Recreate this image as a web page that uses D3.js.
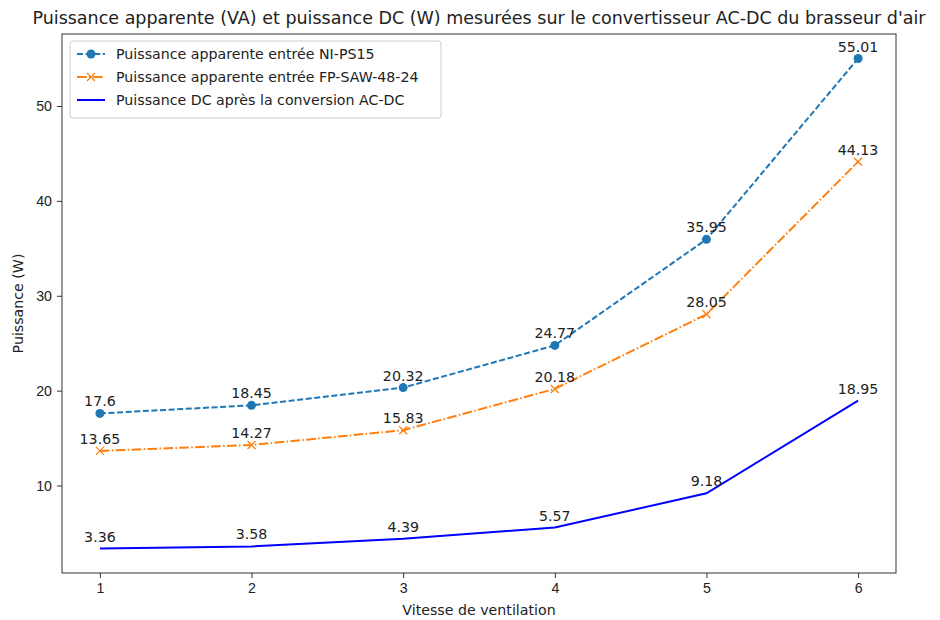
<!DOCTYPE html>
<html>
<head>
<meta charset="utf-8">
<script src="https://cdn.jsdelivr.net/npm/d3@7"></script>
<style>
  body { margin: 0; background: #fff; }
  svg { font-family: "DejaVu Sans", sans-serif; }
</style>
</head>
<body>
<div id="chart"></div>
<script>
// data
var vitesses = [1, 2, 3, 4, 5, 6];
var ps15 = [17.6, 18.45, 20.32, 24.77, 35.95, 55.01];
var saw = [13.65, 14.27, 15.83, 20.18, 28.05, 44.13];
var dc = [3.36, 3.58, 4.39, 5.57, 9.18, 18.95];
var yTicks = [10, 20, 30, 40, 50];
var titre = "Puissance apparente (VA) et puissance DC (W) mesurées sur le convertisseur AC-DC du brasseur d'air";

var series = [
  {name: "Puissance apparente entrée NI-PS15", values: ps15, color: "#1f77b4", dash: "6,2.6", marker: "circle"},
  {name: "Puissance apparente entrée FP-SAW-48-24", values: saw, color: "#ff7f0e", dash: "9.6,2.4,1.5,2.4", marker: "x"},
  {name: "Puissance DC après la conversion AC-DC", values: dc, color: "#0000ff", dash: null, marker: null}
];

var width = 940, height = 620;
var margin = {left: 62, right: 44, top: 34, bottom: 47};
var fs = "14.2px";

var svg = d3.select("#chart").append("svg")
    .attr("width", width)
    .attr("height", height);

var all = ps15.concat(saw).concat(dc);
var ymin = d3.min(all), ymax = d3.max(all), pad = (ymax - ymin) * 0.05;

var x = d3.scaleLinear().domain([0.75, 6.25]).range([margin.left, width - margin.right]);
var y = d3.scaleLinear().domain([ymin - pad, ymax + pad]).range([height - margin.bottom, margin.top]);

// axes
var xAxis = svg.append("g")
    .attr("transform", "translate(0," + (height - margin.bottom) + ")")
    .call(d3.axisBottom(x).tickValues(vitesses).tickFormat(d3.format("d")).tickSize(5).tickPadding(5));
var yAxis = svg.append("g")
    .attr("transform", "translate(" + margin.left + ",0)")
    .call(d3.axisLeft(y).tickValues(yTicks).tickSize(5).tickPadding(5));
[xAxis, yAxis].forEach(function(a) {
  a.select(".domain").remove();
  a.selectAll("text").style("font-size", fs).attr("fill", "#222");
  a.selectAll("line").attr("stroke", "#333");
});

// frame
svg.append("rect")
    .attr("x", margin.left).attr("y", margin.top)
    .attr("width", width - margin.left - margin.right)
    .attr("height", height - margin.top - margin.bottom)
    .attr("fill", "none").attr("stroke", "#333").attr("stroke-width", 1);

var line = d3.line()
    .x(function(d, i) { return x(vitesses[i]); })
    .y(function(d) { return y(d); });

series.forEach(function(s) {
  var g = svg.append("g");
  g.append("path")
    .attr("d", line(s.values))
    .attr("fill", "none")
    .attr("stroke", s.color)
    .attr("stroke-width", 2)
    .attr("stroke-dasharray", s.dash);

  if (s.marker == "circle") {
    g.selectAll("circle").data(s.values).enter().append("circle")
      .attr("cx", function(d, i) { return x(vitesses[i]); })
      .attr("cy", function(d) { return y(d); })
      .attr("r", 4.5)
      .attr("fill", s.color);
  } else if (s.marker == "x") {
    g.selectAll("path.mk").data(s.values).enter().append("path")
      .attr("class", "mk")
      .attr("d", function(d, i) {
        var cx = x(vitesses[i]), cy = y(d), r = 4;
        return "M" + (cx - r) + "," + (cy - r) + "L" + (cx + r) + "," + (cy + r) +
               "M" + (cx - r) + "," + (cy + r) + "L" + (cx + r) + "," + (cy - r);
      })
      .attr("stroke", s.color)
      .attr("stroke-width", 1.3);
  }

  g.selectAll("text").data(s.values).enter().append("text")
    .attr("x", function(d, i) { return x(vitesses[i]); })
    .attr("y", function(d) { return y(d) - 7; })
    .attr("text-anchor", "middle")
    .style("font-size", fs)
    .attr("fill", "#222")
    .text(function(d) { return d; });
});

// legend
var leg = svg.append("g").attr("transform", "translate(70,41)");
leg.append("rect")
    .attr("width", 371).attr("height", 77).attr("rx", 3)
    .attr("fill", "#fff").attr("fill-opacity", 0.8)
    .attr("stroke", "#ccc");
series.forEach(function(s, i) {
  var ly = 13 + i * 23;
  leg.append("line")
    .attr("x1", 7).attr("x2", 35).attr("y1", ly).attr("y2", ly)
    .attr("stroke", s.color).attr("stroke-width", 2)
    .attr("stroke-dasharray", s.dash);
  if (s.marker == "circle") {
    leg.append("circle").attr("cx", 21).attr("cy", ly).attr("r", 4.5).attr("fill", s.color);
  } else if (s.marker == "x") {
    leg.append("path")
      .attr("d", "M17," + (ly - 4) + "L25," + (ly + 4) + "M17," + (ly + 4) + "L25," + (ly - 4))
      .attr("stroke", s.color).attr("stroke-width", 1.3);
  }
  leg.append("text")
    .attr("x", 46).attr("y", ly + 5)
    .style("font-size", fs)
    .attr("fill", "#222")
    .text(s.name);
});

// titles
svg.append("text")
    .attr("x", (margin.left + width - margin.right) / 2).attr("y", 24)
    .attr("text-anchor", "middle")
    .style("font-size", "17.5px")
    .attr("fill", "#222")
    .text(titre);
svg.append("text")
    .attr("x", (margin.left + width - margin.right) / 2).attr("y", 615)
    .attr("text-anchor", "middle")
    .style("font-size", fs)
    .attr("fill", "#222")
    .text("Vitesse de ventilation");
svg.append("text")
    .attr("transform", "translate(23," + ((margin.top + height - margin.bottom) / 2) + ") rotate(-90)")
    .attr("text-anchor", "middle")
    .style("font-size", fs)
    .attr("fill", "#222")
    .text("Puissance (W)");
</script>
</body>
</html>
